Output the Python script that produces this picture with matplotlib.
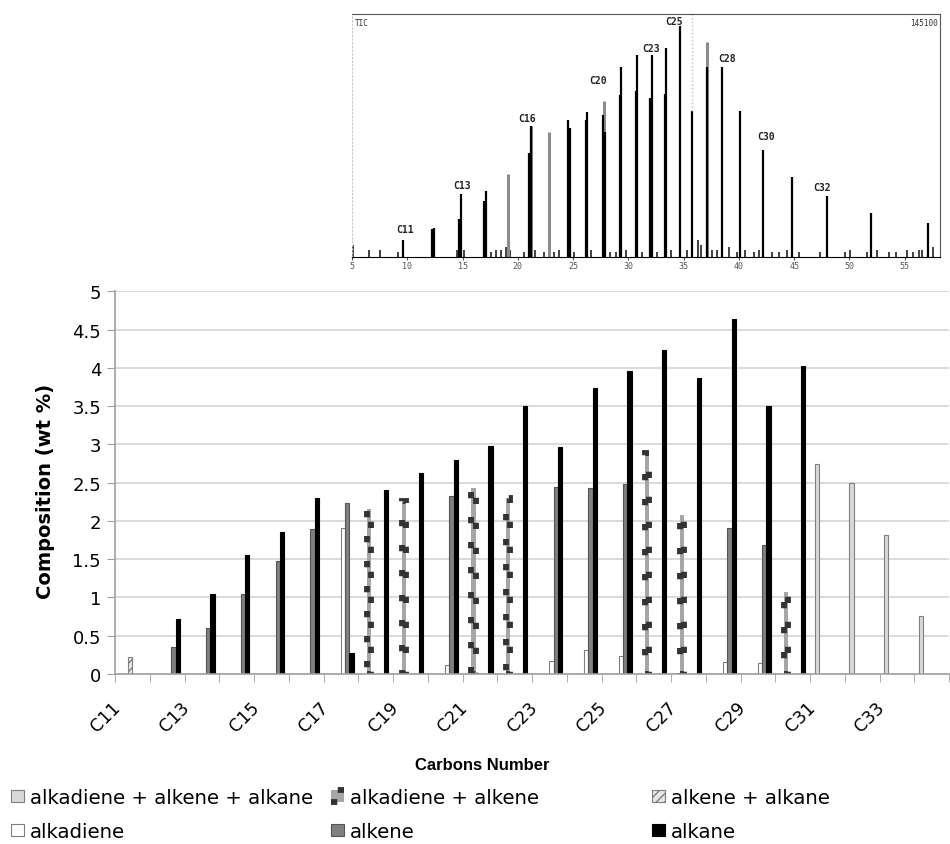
import numpy as np
import matplotlib
matplotlib.use("Agg")
import matplotlib.pyplot as plt
from matplotlib.patches import Patch

plt.rcParams['font.family'] = ['DejaVu Sans']
plt.rcParams['lines.scale_dashes'] = False
plt.rcParams['hatch.linewidth'] = 1.0

# carbon numbers C11..C34
cats = ['C%d' % n for n in range(11, 35)]

# composition (wt %), 0 = not present
alkadiene_alkene_alkane = [0, 0, 0, 0, 0, 0, 0, 0, 0, 0, 0, 0,
                           0, 0, 0, 0, 0, 0, 0, 0, 2.75, 2.50, 1.81, 0.76]
alkadiene_alkene = [0, 0, 0, 0, 0, 0, 0, 2.15, 2.26, 0, 2.43, 2.30,
                    0, 0, 0, 2.89, 2.08, 0, 0, 1.07, 0, 0, 0, 0]
alkene_alkane = [0.22, 0, 0, 0, 0, 0, 0, 0, 0, 0, 0, 0,
                 0, 0, 0, 0, 0, 0, 0, 0, 0, 0, 0, 0]
alkadiene = [0, 0, 0, 0, 0, 0, 1.91, 0, 0, 0.12, 0, 0,
             0.17, 0.31, 0.23, 0, 0, 0.16, 0.15, 0, 0, 0, 0, 0]
alkene = [0, 0.35, 0.60, 1.05, 1.48, 1.90, 2.24, 0, 0, 2.32, 0, 0,
          2.44, 2.43, 2.48, 0, 0, 1.91, 1.69, 0, 0, 0, 0, 0]
alkane = [0, 0.72, 1.05, 1.55, 1.86, 2.30, 0.28, 2.41, 2.62, 2.80, 2.98, 3.50,
          2.97, 3.74, 3.96, 4.23, 3.87, 4.64, 3.50, 4.03, 0, 0, 0, 0]

labels = ['alkadiene + alkene + alkane', 'alkadiene + alkene', 'alkene + alkane',
          'alkadiene', 'alkene', 'alkane']

# chromatogram (TIC) peaks: retention time (min), relative height
peak_rt = [9.6, 12.2, 12.4, 14.7, 14.85, 16.9, 17.1, 21.0, 21.15, 24.55, 24.7,
           26.2, 26.3, 27.75, 27.9, 29.25, 29.35, 30.65, 30.75, 32.0, 32.1,
           33.3, 33.4, 34.65, 35.8, 37.1, 38.45, 40.1, 42.2, 44.8, 48.0, 52.0, 57.1]
peak_h = [0.07, 0.115, 0.12, 0.155, 0.26, 0.23, 0.27, 0.43, 0.54, 0.565, 0.53,
          0.565, 0.595, 0.585, 0.515, 0.665, 0.78, 0.685, 0.83, 0.655, 0.83,
          0.67, 0.86, 0.95, 0.6, 0.78, 0.78, 0.60, 0.44, 0.33, 0.25, 0.18, 0.14]
gray_rt = [19.1, 22.85, 27.8, 21.2, 37.15]
gray_h = [0.34, 0.515, 0.64, 0.54, 0.885]
noise_rt = [5.1, 6.5, 7.5, 9.2, 14.5, 15.1, 17.6, 18.0, 18.5, 18.9, 19.3, 20.6,
            21.6, 22.4, 23.3, 23.7, 25.1, 26.6, 28.3, 28.9, 29.8, 31.2, 32.6,
            33.9, 35.3, 36.3, 36.6, 37.6, 38.0, 39.1, 39.8, 40.6, 41.4, 41.8,
            43.0, 43.6, 44.4, 45.4, 47.3, 49.6, 50.1, 51.6, 52.5, 53.6, 54.2,
            55.2, 55.8, 56.3, 56.6, 57.6]
noise_h = [0.05, 0.03, 0.03, 0.02, 0.03, 0.03, 0.02, 0.03, 0.03, 0.04, 0.03, 0.02,
           0.03, 0.02, 0.02, 0.03, 0.02, 0.03, 0.02, 0.02, 0.03, 0.02, 0.02,
           0.03, 0.03, 0.07, 0.05, 0.03, 0.03, 0.04, 0.02, 0.03, 0.02, 0.03,
           0.02, 0.02, 0.03, 0.02, 0.02, 0.02, 0.03, 0.02, 0.03, 0.02, 0.02,
           0.03, 0.02, 0.03, 0.03, 0.04]
tic_labels = ['C11', 'C13', 'C16', 'C20', 'C23', 'C25', 'C28', 'C30', 'C32']
tic_label_rt = [9.8, 15.0, 20.8, 27.3, 32.1, 34.1, 38.9, 42.5, 47.5]
tic_label_h = [0.115, 0.296, 0.57, 0.73, 0.86, 0.97, 0.82, 0.5, 0.29]

styles = [
    dict(facecolor='#d9d9d9', edgecolor='#7f7f7f', linewidth=0.8),
    dict(facecolor='#a6a6a6', edgecolor='#333333', linewidth=4.2, linestyle=(0, (4.5, 13.5))),
    dict(facecolor='#e6e6e6', edgecolor='#7f7f7f', linewidth=0.8, hatch='////'),
    dict(facecolor='white', edgecolor='#7f7f7f', linewidth=0.8),
    dict(facecolor='#808080', edgecolor='#555555', linewidth=0.8),
    dict(facecolor='black', edgecolor='black', linewidth=0.8),
]
series = [alkadiene_alkene_alkane, alkadiene_alkene, alkene_alkane, alkadiene, alkene, alkane]

fig = plt.figure(figsize=(9.5, 8.45), dpi=100)
ax = fig.add_axes([115 / 950, 170 / 845, 834 / 950, 382.7 / 845])

x = np.arange(len(cats))
w = 0.122
for i, (vals, st) in enumerate(zip(series, styles)):
    vals = np.array(vals)
    m = vals > 0
    ax.bar(x[m] + (i - 2.5) * w, vals[m], w, **st)

ax.set_xlim(-0.5, 23.13)
ax.set_ylim(0, 5)
yt = np.arange(0, 5.01, 0.5)
ax.set_yticks(yt)
ax.set_yticklabels(['%g' % v for v in yt], fontsize=13)
ax.yaxis.grid(True, color='#d4d4d4', linewidth=1.2)
ax.set_axisbelow(True)
ax.tick_params(axis='y', length=6, color='#a0a0a0', pad=4)

# rotated labels sit a little left of the category centre, as in the original
ax.set_xticks(x[::2] - 0.25)
ax.set_xticklabels(cats[::2], rotation=45, ha='right', va='top', fontsize=12.5)
ax.set_xticks(np.arange(-0.5, 24, 1), minor=True)
ax.tick_params(axis='x', which='major', length=0, pad=17)
ax.tick_params(axis='x', which='minor', length=6, color='#a0a0a0')

for s in ['top', 'right']:
    ax.spines[s].set_visible(False)
for s in ['left', 'bottom']:
    ax.spines[s].set_color('#a0a0a0')
    ax.spines[s].set_linewidth(1.2)

ax.set_ylabel('Composition (wt %)', fontsize=14, fontweight='bold')
ax.yaxis.set_label_coords(-0.072, 0.48)
fig.text(482 / 950, 1 - 766 / 845, 'Carbons Number', ha='center', va='center',
         fontsize=12, fontweight='bold', family='Liberation Sans')

# legend: three columns placed like the original
handles = [Patch(**st) for st in styles]
col_x = [11 / 950, 331 / 950, 652 / 950]
for c in range(3):
    fig.legend([handles[c], handles[c + 3]], [labels[c], labels[c + 3]],
               loc='upper left', bbox_to_anchor=(col_x[c], 1 - 789 / 845),
               frameon=False, fontsize=14.2, borderpad=0, borderaxespad=0,
               handlelength=0.65, handleheight=0.6, handletextpad=0.3,
               labelspacing=0.75)

# inset chromatogram
ax2 = fig.add_axes([352 / 950, 1 - 258 / 845, 588 / 950, 243 / 845])
ax2.set_xlim(5, 58.2)
ax2.set_ylim(0, 1)
ax2.vlines(noise_rt, 0, noise_h, color='#333333', linewidth=1.3)
ax2.vlines(gray_rt, 0, gray_h, color='#8c8c8c', linewidth=2.2)
ax2.vlines(peak_rt, 0, peak_h, color='black', linewidth=1.6)
ax2.vlines([35.8], 0.6, 1.0, color='#c0c0c0', linewidth=1, linestyles=':')
for t, rt, h in zip(tic_labels, tic_label_rt, tic_label_h):
    ax2.text(rt, h, t, ha='center', va='center', fontsize=7, fontweight='bold',
             family='DejaVu Sans Mono', color='#222222')
ax2.text(0.005, 0.985, 'TIC', transform=ax2.transAxes, ha='left', va='top',
         fontsize=5.5, family='DejaVu Sans Mono', color='#333333')
ax2.text(0.997, 0.985, '145100', transform=ax2.transAxes, ha='right', va='top',
         fontsize=5.5, family='DejaVu Sans Mono', color='#333333')
ax2.set_xticks(np.arange(5, 56, 5))
ax2.set_xticklabels([str(v) for v in range(5, 56, 5)], fontsize=6, color='#555555',
                    family='DejaVu Sans Mono')
ax2.tick_params(axis='x', length=2, pad=1, color='#555555')
ax2.set_yticks([])
ax2.spines['left'].set_color('#c8c8c8')
ax2.spines['left'].set_linestyle(':')
ax2.spines['top'].set_color('#555555')
ax2.spines['right'].set_color('#555555')
ax2.spines['bottom'].set_color('black')
ax2.patch.set_alpha(0)

fig.savefig('out.png', dpi=100)
